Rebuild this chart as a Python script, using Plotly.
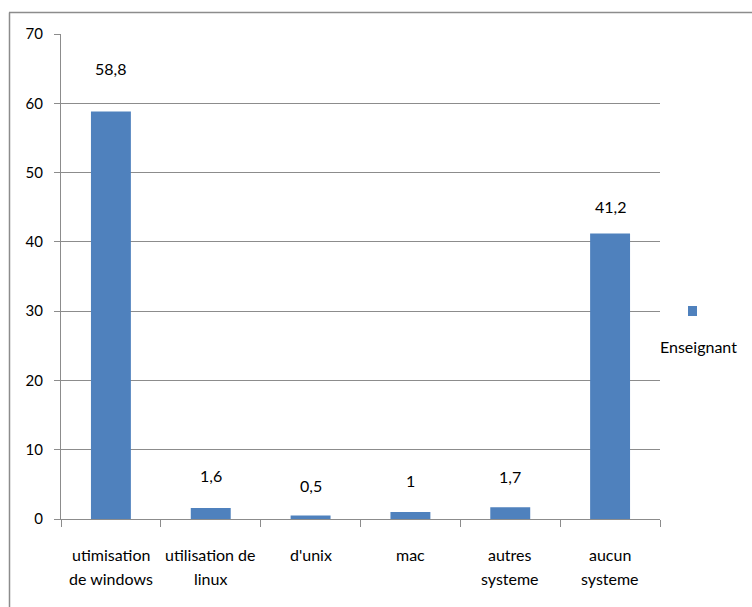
import plotly.graph_objects as go

categories = ["utimisation de windows", "utilisation de linux", "d'unix", "mac", "autres systeme", "aucun systeme"]
label_lines = [["utimisation", "de windows"], ["utilisation de", "linux"], ["d'unix"], ["mac"],
               ["autres", "systeme"], ["aucun", "systeme"]]
values = [58.8, 1.6, 0.5, 1, 1.7, 41.2]
value_labels = ["58,8", "1,6", "0,5", "1", "1,7", "41,2"]
label_shift = [43, 32, 30, 32, 31, 27]
series_name = "Enseignant"
y_ticks = [0, 10, 20, 30, 40, 50, 60, 70]

W, H = 752, 607
L, R, T, B = 61, 92, 34, 88
pw, ph = W - L - R, H - T - B

def px_x(px):
    return (px - L) / pw

def px_y(py):
    return 1 - (py - T) / ph

font = "Lato, 'Open Sans', sans-serif"
grid = "#8c8c8c"
FS = 16

fig = go.Figure(go.Bar(
    x=categories, y=values, name=series_name,
    marker=dict(color="#4F81BD", line=dict(width=0)),
    width=0.4, showlegend=False,
))

for c, v, t, s in zip(categories, values, value_labels, label_shift):
    fig.add_annotation(x=c, y=v, text=t, showarrow=False, yshift=s,
                       yanchor="middle", font=dict(size=FS, color="#000"))

# category labels (two lines, wide spacing)
for c, lines in zip(categories, label_lines):
    for i, ln in enumerate(lines):
        fig.add_annotation(x=c, xref="x", yref="paper", y=px_y(554 + 24.5 * i),
                           text=ln, showarrow=False, yanchor="middle",
                           font=dict(size=FS, color="#000"))

# legend (marker above text)
fig.add_shape(type="rect", xref="paper", yref="paper",
              x0=px_x(688), x1=px_x(697), y0=px_y(316), y1=px_y(306),
              fillcolor="#4F81BD", line=dict(width=0))
fig.add_annotation(xref="paper", yref="paper", x=px_x(698), y=px_y(346),
                   text=series_name, showarrow=False, xanchor="center", yanchor="middle",
                   font=dict(size=FS, color="#000"))

# outer frame (top and left edges)
fig.add_shape(type="line", xref="paper", yref="paper",
              x0=px_x(9), x1=px_x(760), y0=px_y(12.5), y1=px_y(12.5),
              line=dict(color="#8c8c8c", width=1.5))
fig.add_shape(type="line", xref="paper", yref="paper",
              x0=px_x(9.5), x1=px_x(9.5), y0=px_y(12.5), y1=px_y(620),
              line=dict(color="#8c8c8c", width=1.5))

fig.update_layout(
    width=W, height=H,
    margin=dict(l=L, r=R, t=T, b=B),
    paper_bgcolor="white", plot_bgcolor="white",
    font=dict(family=font, size=FS, color="#000"),
    bargap=0.6,
    xaxis=dict(
        type="category", tickson="boundaries", showgrid=False,
        showline=True, linecolor=grid, linewidth=1,
        ticks="outside", ticklen=7, tickcolor=grid,
        showticklabels=False,
    ),
    yaxis=dict(
        range=[0, 70], tickvals=y_ticks,
        showgrid=True, gridcolor=grid, gridwidth=1,
        showline=True, linecolor=grid, linewidth=1,
        ticks="outside", ticklen=6, tickcolor=grid,
        zeroline=False, ticklabelstandoff=8,
        tickfont=dict(size=15),
    ),
)

fig.write_html("out.html")
